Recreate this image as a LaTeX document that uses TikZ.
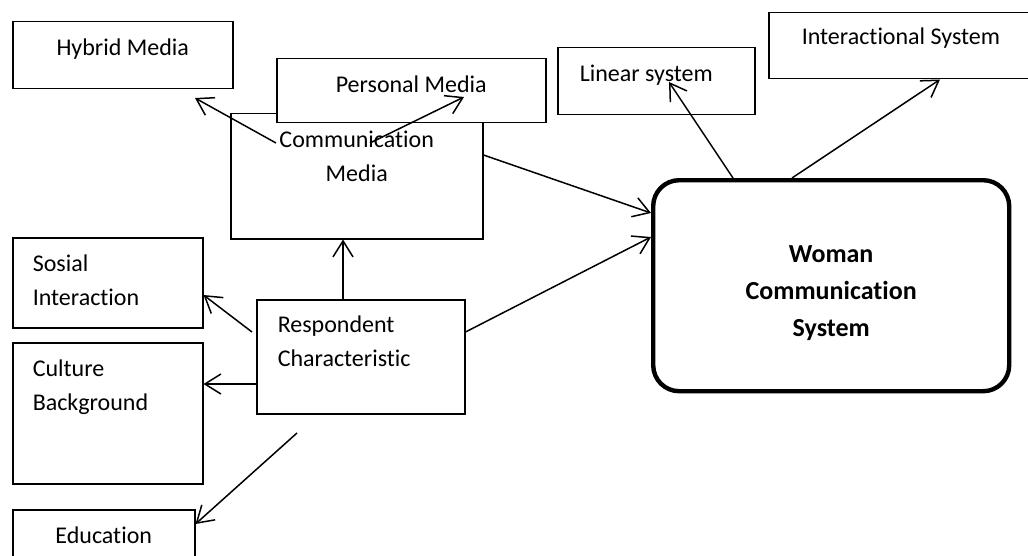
\documentclass[tikz,border=0pt]{standalone}
\usepackage{fontspec}
\setmainfont{Carlito}[Ligatures=NoCommon]
\usepackage{tikz}
\usetikzlibrary{arrows.meta,positioning}

\tikzset{
    box/.style={draw, line width=.75pt, fill=white, inner sep=0pt, anchor=north west,
        text height=17pt, font=\fontsize{12}{17}\selectfont},
    mainbox/.style={draw, line width=2.2pt, rounded corners=13pt, inner sep=0pt, anchor=north west,
        align=flush center, font=\fontsize{13}{18.5}\selectfont\bfseries},
    arr/.style={->, line width=.75pt},
}

\begin{document}
\begin{tikzpicture}[x=.5pt,y=-.5pt,>={Straight Barb[length=8pt,width=10pt]}]
    \useasboundingbox (0,0) rectangle (1028,556);
    \clip (0,0) rectangle (1028,556);

    % media boxes
    \node[box, minimum width=110pt, text width=110pt, align=flush center, text depth=16.5pt] (hybrid) at (12,21) {Hybrid Media};
    \node[box, minimum width=126pt, text width=126pt, align=flush center, text depth=45.5pt] (comm) at (230,113) {Communication\\ Media};
    \node[box, minimum width=134.5pt, text width=134.5pt, align=flush center, text depth=15pt] (personal) at (276,58) {Personal Media};

    % system boxes
    \node[box, minimum width=98.5pt, text width=76.5pt, align=flush left, text depth=16.5pt] (linear) at (557,47) {Linear system};
    \node[box, minimum width=140pt, text width=107pt, align=flush left, text height=16pt, text depth=17pt] (inter) at (768,12) {Interactional System};
    \node[mainbox, minimum width=178pt, text width=178pt, text height=41pt, text depth=64.5pt] (woman) at (651,178) {Woman\\ Communication\\ System};

    % respondent boxes
    \node[box, minimum width=95pt, text width=75pt, align=flush left, text depth=28pt] (sosial) at (12,237) {Sosial\\ Interaction};
    \node[box, minimum width=95pt, text width=75pt, align=flush left, text depth=53.5pt] (culture) at (12,342) {Culture\\ Background};
    \node[box, minimum width=91pt, text width=91pt, align=flush center, text depth=18pt] (edu) at (12,509) {Education};
    \node[box, minimum width=104pt, text width=83pt, align=flush left, text height=16.5pt, text depth=40.5pt] (resp) at (256,299) {Respondent\\ Characteristic};

    % free ends
    \coordinate (cm-a) at (276,143);
    \coordinate (hy-a) at (195,98);
    \coordinate (cm-b) at (370,143);
    \coordinate (pm-b) at (464,97);
    \coordinate (ls-e) at (669,82);
    \coordinate (rc-h) at (252,332);
    \coordinate (rc-j) at (297,433);

    % connectors
    \draw[arr] (cm-a) -- (hy-a);
    \draw[arr] (cm-b) -- (pm-b);
    \draw[arr] (comm.east |- 0,155) -- (woman.west |- 0,213);
    \draw[arr] (resp.east |- 0,332) -- (woman.west |- 0,237);
    \draw[arr] (woman.north -| 733,0) -- (ls-e);
    \draw[arr] (woman.north -| 792,0) -- (inter.south -| 940,0);
    \draw[arr] (resp.north -| 343,0) -- (comm.south -| 343,0);
    \draw[arr] (rc-h) -- (sosial.east |- 0,295);
    \draw[arr] (resp.west |- 0,384) -- (culture.east |- 0,384);
    \draw[arr] (rc-j) -- (edu.east |- 0,524);
\end{tikzpicture}
\end{document}
